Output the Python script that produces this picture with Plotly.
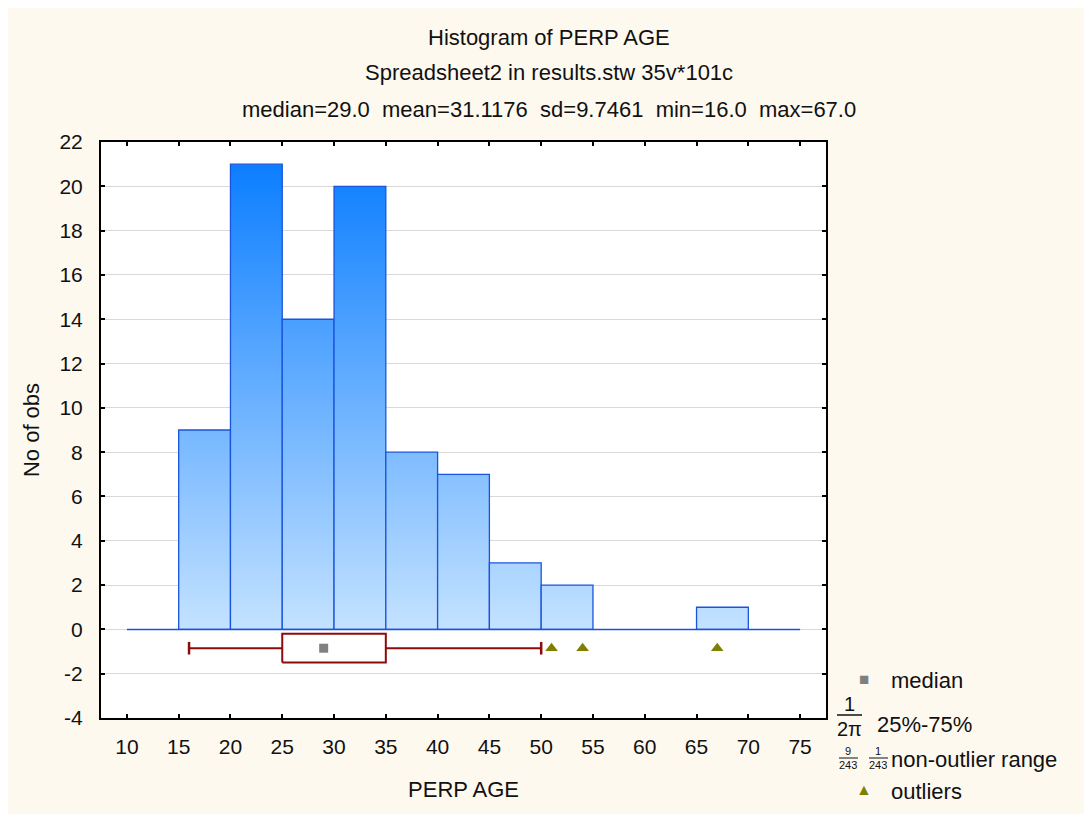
import plotly.graph_objects as go

# ---------------- data ----------------
bin_left = [10, 15, 20, 25, 30, 35, 40, 45, 50, 55, 60, 65, 70]
bin_width = 5
counts = [0, 9, 21, 14, 20, 8, 7, 3, 2, 0, 0, 1, 0]

box_q1, box_q3, box_median = 25, 35, 29
whisker_lo, whisker_hi = 16, 50
outliers = [51, 54, 67]

title_lines = [
    "Histogram of PERP AGE",
    "Spreadsheet2 in results.stw 35v*101c",
    "median=29.0\u00a0\u00a0mean=31.1176\u00a0\u00a0sd=9.7461\u00a0\u00a0min=16.0\u00a0\u00a0max=67.0",
]
x_ticks = list(range(10, 80, 5))
y_ticks = list(range(-4, 24, 2))
y_tick_labels = [str(v) for v in y_ticks]

# ---------------- style ----------------
FONT = "Liberation Sans, Arial, sans-serif"
BG = "#FDF9EF"
BAR_LINE = "rgb(25,85,220)"
LIGHT = "rgb(196,226,255)"
DARK = "rgb(12,126,255)"
BOX_COL = "#8E0B0B"
BOX_Y = -0.85
BOX_HALF = 0.65
TXT = "#111111"
FS = 22

# page body has an 8px margin; figure is shifted accordingly
W, H = 1092, 814
L, T = 93, 134
PW, PH = 725, 576
R, B = W - L - PW, H - T - PH


def px(x):
    return (x - 101) / PW


def py(y):
    return (718 - y) / PH


fig = go.Figure()

top = max(counts)
for xl, c in zip(bin_left, counts):
    if c <= 0:
        continue
    xr = xl + bin_width
    fig.add_trace(go.Scatter(
        x=[xl, xl, xr, xr, xl], y=[0, c, c, 0, 0],
        mode="lines", fill="toself",
        fillgradient=dict(type="vertical",
                          colorscale=[[0, LIGHT], [1, DARK]],
                          start=0, stop=top),
        line=dict(color=BAR_LINE, width=1.3),
        hoverinfo="skip", showlegend=False,
    ))

# baseline
fig.add_trace(go.Scatter(
    x=[bin_left[0], bin_left[-1] + bin_width], y=[0, 0],
    mode="lines", line=dict(color=BAR_LINE, width=1.5),
    hoverinfo="skip", showlegend=False,
))

# whiskers
fig.add_trace(go.Scatter(
    x=[whisker_lo, box_q1, None, box_q3, whisker_hi],
    y=[BOX_Y, BOX_Y, None, BOX_Y, BOX_Y],
    mode="lines", line=dict(color=BOX_COL, width=2),
    hoverinfo="skip", showlegend=False,
))
fig.add_trace(go.Scatter(
    x=[whisker_lo, whisker_hi], y=[BOX_Y, BOX_Y],
    mode="markers",
    marker=dict(symbol="line-ns", size=9, line=dict(color=BOX_COL, width=2.5)),
    hoverinfo="skip", showlegend=False,
))
# box
fig.add_trace(go.Scatter(
    x=[box_q1, box_q1, box_q3, box_q3, box_q1],
    y=[BOX_Y - BOX_HALF, BOX_Y + BOX_HALF, BOX_Y + BOX_HALF, BOX_Y - BOX_HALF, BOX_Y - BOX_HALF],
    mode="lines", line=dict(color=BOX_COL, width=2),
    hoverinfo="skip", showlegend=False,
))
# median
fig.add_trace(go.Scatter(
    x=[box_median], y=[BOX_Y], mode="markers",
    marker=dict(symbol="square", size=9, color="#808080"),
    hoverinfo="skip", showlegend=False,
))
# outliers
fig.add_trace(go.Scatter(
    x=outliers, y=[BOX_Y] * len(outliers), mode="markers",
    marker=dict(symbol="triangle-up", size=11, color="#808000"),
    hoverinfo="skip", showlegend=False,
))

annotations = []
for txt, yy in zip(title_lines, [38, 73, 110]):
    annotations.append(dict(text=txt, x=px(549), y=py(yy),
                            font=dict(size=FS, color=TXT, family=FONT)))

leg_font = dict(size=FS, color=TXT, family=FONT)
annotations += [
    dict(text="\u25a0", x=px(864), y=py(679), font=dict(size=17, color="#808080", family=FONT)),
    dict(text="median", x=px(889), y=py(680), xanchor="left", font=leg_font),
    dict(text="1", x=px(849), y=py(704), font=dict(size=20, color=TXT, family=FONT)),
    dict(text="2\u03c0", x=px(849), y=py(729), font=dict(size=20, color=TXT, family=FONT)),
    dict(text="25%-75%", x=px(875), y=py(724), xanchor="left", font=leg_font),
    dict(text="9", x=px(848), y=py(751), font=dict(size=11, color=TXT, family=FONT)),
    dict(text="243", x=px(848), y=py(765), font=dict(size=11, color=TXT, family=FONT)),
    dict(text="1", x=px(878), y=py(751), font=dict(size=11, color=TXT, family=FONT)),
    dict(text="243", x=px(878), y=py(765), font=dict(size=11, color=TXT, family=FONT)),
    dict(text="non-outlier range", x=px(889), y=py(759), xanchor="left", font=leg_font),
    dict(text="\u25b2", x=px(864), y=py(789), font=dict(size=16, color="#808000", family=FONT)),
    dict(text="outliers", x=px(889), y=py(791), xanchor="left", font=leg_font),
]
for a in annotations:
    a.setdefault("xref", "paper")
    a.setdefault("yref", "paper")
    a.setdefault("showarrow", False)
    a.setdefault("xanchor", "center")
    a.setdefault("yanchor", "middle")

shapes = [
    dict(type="line", xref="paper", yref="paper", x0=px(837), x1=px(862), y0=py(715), y1=py(715),
         line=dict(color=TXT, width=1.5)),
    dict(type="line", xref="paper", yref="paper", x0=px(839), x1=px(858), y0=py(758), y1=py(758),
         line=dict(color=TXT, width=1)),
    dict(type="line", xref="paper", yref="paper", x0=px(869), x1=px(888), y0=py(758), y1=py(758),
         line=dict(color=TXT, width=1)),
]

fig.update_layout(
    width=W, height=H,
    margin=dict(l=L, r=R, t=T, b=B, pad=0),
    paper_bgcolor=BG, plot_bgcolor="white",
    font=dict(family=FONT, size=FS, color=TXT),
    showlegend=False,
    annotations=annotations,
    shapes=shapes,
)
fig.update_xaxes(
    range=[7.5, 77.5], tickvals=x_ticks, ticks="inside", ticklen=4, tickwidth=1.5,
    tickcolor="black", showline=True, linecolor="black", linewidth=2, mirror="ticks",
    showgrid=False, zeroline=False, tickfont=dict(size=21, color=TXT),
    title=dict(text="PERP AGE", font=dict(size=FS, color=TXT), standoff=24),
    ticklabelstandoff=9,
)
fig.update_yaxes(
    range=[-4, 22], tickvals=y_ticks, ticktext=y_tick_labels, ticks="inside", ticklen=4,
    tickwidth=1.5, tickcolor="black", showline=True, linecolor="black", linewidth=2,
    mirror="ticks", showgrid=True, gridcolor="#D9D9D9", gridwidth=1, zeroline=False,
    tickfont=dict(size=21, color=TXT),
    title=dict(text="No of obs", font=dict(size=FS, color=TXT), standoff=14),
    ticklabelstandoff=12,
)

fig.write_html("out.html")
